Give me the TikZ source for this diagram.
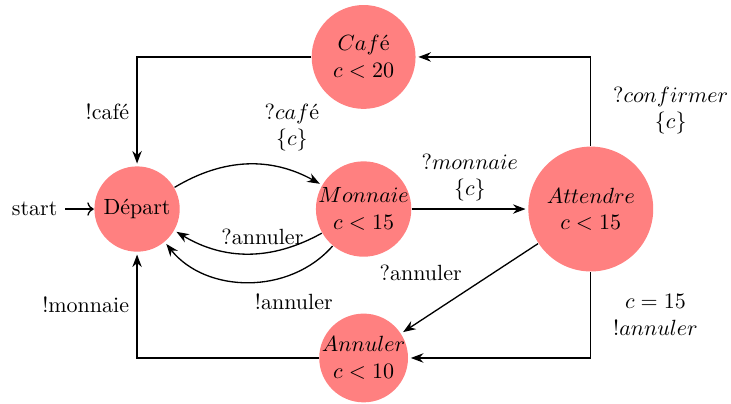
\documentclass[tikz,border=0pt]{standalone}
\usepackage{tikz}
\usetikzlibrary{arrows.meta,positioning}

\begin{document}
\begin{tikzpicture}[semithick,
    etat/.style={circle, fill=red!50, align=center},
    fleche/.style={-{Stealth}, shorten >=1pt}]
                \useasboundingbox (-2.19,-3.10) rectangle (9.49,3.34);
                \node[etat, inner sep=2.8pt] (depart) at (0,0) {D\'epart};
                \node[etat, inner sep=-0.7pt] (monnaie) at (3.62,0) {$Monnaie$\\$c<15$};
                \node[etat, inner sep=4.6pt] (attendre) at (7.25,0) {$Attendre$\\$c<15$};
                \node[etat, inner sep=4.8pt] (cafe) at (3.62,2.43) {$Caf$\'e\\$c<20$};
                \node[etat, inner sep=-0.8pt] (annuler) at (3.62,-2.38) {$Annuler$\\$c<10$};
                \node (start) [left=3ex of depart] {start};
                \draw[->] (start) -- (depart);
                \draw[fleche] (depart) to[bend left=30] node[pos=0.8, above=2mm, align=center]{?$caf$\'e\\$\{c\}$} (monnaie);
                \draw[fleche] (monnaie) to[bend left=30] node[pos=0.4, above]{?annuler} (depart);
                \draw[fleche] (monnaie) to[bend left=50] node[pos=0.25, below=2mm]{!annuler} (depart);
                \draw[fleche] (monnaie) -- (attendre) node[midway, above, align=center]{?$monnaie$\\$\{c\}$};
                \draw[fleche] (attendre) |- (cafe) node[pos=0.2, right=2.3mm, align=center]{?$confirmer$\\$\{c\}$};
                \draw[fleche] (attendre) -- (annuler) node[midway, above left]{?annuler};
                \draw[fleche] (attendre) |- (annuler) node[pos=0.25, right=2.3mm, align=center]{$c=15$\\!$annuler$};
                \draw[fleche] (cafe) -| (depart) node[pos=0.75, left]{!caf\'e};
                \draw[fleche] (annuler) -| (depart) node[pos=0.75, left]{!monnaie};
            \end{tikzpicture}
\end{document}
